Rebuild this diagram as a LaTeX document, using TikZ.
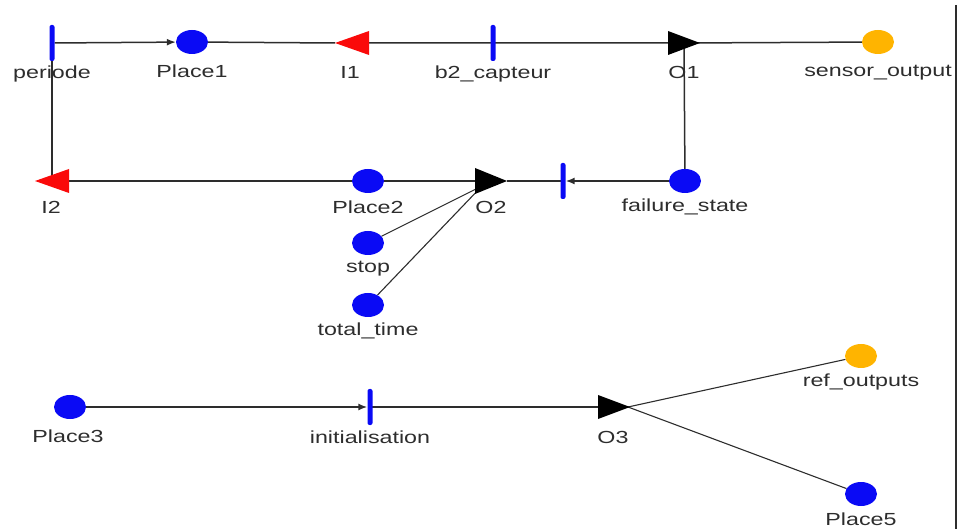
\documentclass[tikz,border=0pt]{standalone}
\usepackage{fontspec}
\setmainfont{Liberation Sans}[FakeStretch=1.33]
\usetikzlibrary{shapes.geometric,arrows.meta,backgrounds}
\definecolor{pblue}{RGB}{10,10,245}
\definecolor{porange}{RGB}{255,180,0}
\definecolor{tred}{RGB}{250,10,10}
\definecolor{ink}{RGB}{45,45,45}
\begin{document}
\begin{tikzpicture}[x=1pt,y=-1pt,
  place/.style={ellipse, minimum width=32pt, minimum height=24pt, inner sep=0pt, fill=pblue},
  outplace/.style={place, fill=porange},
  bar/.style={rectangle, rounded corners=2pt, minimum width=5pt, minimum height=36pt, inner sep=0pt, fill=pblue},
  lbl/.style={font=\fontsize{17.5}{17.5}\selectfont, text=ink, inner sep=0pt},
  arc/.style={draw=ink, line width=1.5pt},
  thinarc/.style={draw=ink, line width=1.1pt},
  arr/.style={arc, -{Latex[length=9pt,width=7pt]}},
  redtri/.style={fill=tred},
  blacktri/.style={fill=black}]
\useasboundingbox (0,0) rectangle (959,529);

% ---- nodes: places and transitions
\node[bar] (periode) at (52,43) {};
\node[place] (Place1) at (192,42) {};
\node[bar] (b2) at (493,43) {};
\node[outplace] (sensor) at (878,42) {};
\node[place] (failure) at (685,181) {};
\node[bar] (t2) at (563,181) {};
\node[place] (Place2) at (368,181) {};
\node[place] (stop) at (368,243) {};
\node[place] (total) at (368,305) {};
\node[place] (Place3) at (70,407) {};
\node[bar] (init) at (370,407) {};
\node[outplace] (ref) at (861,356) {};
\node[place] (Place5) at (861,494) {};

% ---- triangle anchors
\coordinate (I1) at (352,43);  \coordinate (I1tip) at (335,43);
\coordinate (O1) at (684,43);  \coordinate (O1tip) at (700,43);
\coordinate (I2) at (52,181);
\coordinate (O2) at (491,181); \coordinate (O2tip) at (507,181);
\coordinate (O2in) at (482,186);
\coordinate (O3) at (614,407); \coordinate (O3tip) at (628,407);

% ---- triangles
\fill[redtri] (335,43) -- (369,31) -- (369,55) -- cycle;
\fill[blacktri] (668,31) -- (700,43) -- (668,55) -- cycle;
\fill[redtri] (35,181) -- (69,169) -- (69,193) -- cycle;
\fill[blacktri] (475,168) -- (507,181) -- (475,194) -- cycle;
\fill[blacktri] (598,395) -- (630,407) -- (598,419) -- cycle;

% ---- labels
\node[lbl] at (52,74) {periode};
\node[lbl] at (192,71) {Place1};
\node[lbl] at (350,72) {I1};
\node[lbl] at (493,74) {b2\_capteur};
\node[lbl] at (684,72) {O1};
\node[lbl] at (878,73) {sensor\_output};
\node[lbl] at (51,207) {I2};
\node[lbl] at (368,207) {Place2};
\node[lbl] at (491,207) {O2};
\node[lbl] at (685,207) {failure\_state};
\node[lbl] at (368,269) {stop};
\node[lbl] at (368,331) {total\_time};
\node[lbl] at (68,436) {Place3};
\node[lbl] at (370,437) {initialisation};
\node[lbl] at (613,437) {O3};
\node[lbl] at (861,382) {ref\_outputs};
\node[lbl] at (861,519) {Place5};

% ---- connectors
\begin{scope}[on background layer]
\draw[arr] (periode) -- (Place1);
\draw[arc] (Place1) -- (I1tip);
\draw[arc] (I1) -- (b2.center) -- (O1) -- (sensor);
\draw[arc] (O1) -- (failure);
\draw[arr] (failure) -- (t2);
\draw[arc] (t2.center) -- (O2tip);
\draw[arc] (O2) -- (Place2) -- (I2);
\draw[arc] (periode) -- (I2);
\draw[thinarc] (stop) -- (O2in);
\draw[thinarc] (total) -- (O2in);
\draw[arr] (Place3) -- (init);
\draw[arc] (init.center) -- (O3tip);
\draw[thinarc] (O3tip) -- (ref);
\draw[thinarc] (O3tip) -- (Place5);
\end{scope}

% ---- frame edge at right
\draw[ink, line width=1.3pt] (956,5) -- (956,529);
\end{tikzpicture}
\end{document}
